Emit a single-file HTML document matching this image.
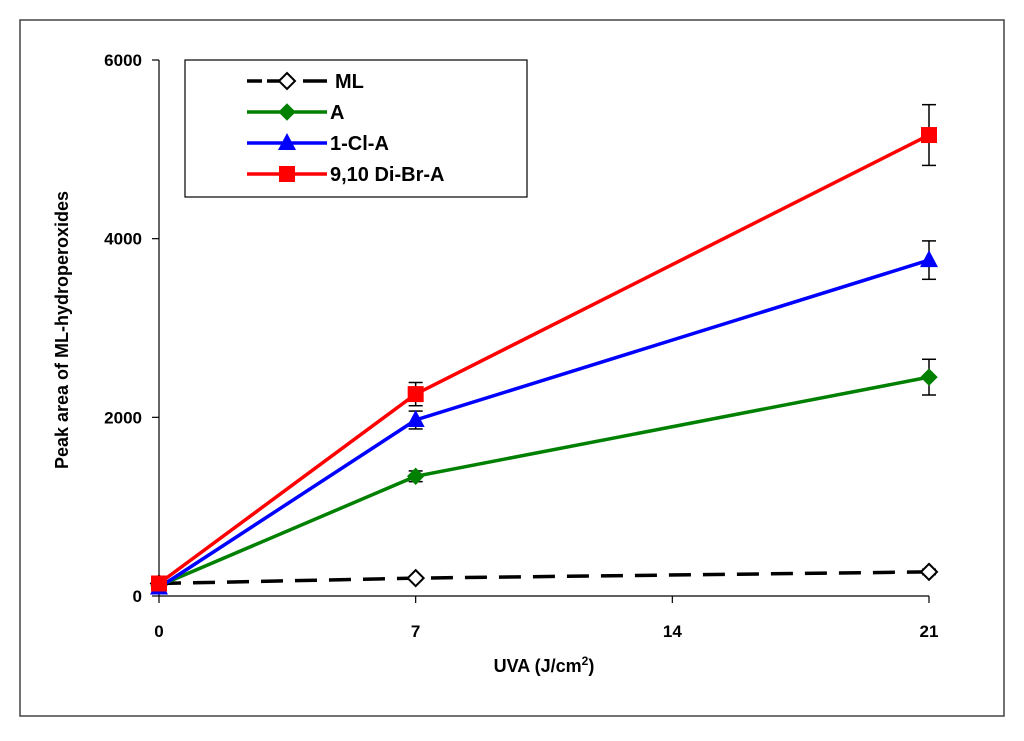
<!DOCTYPE html>
<html><head><meta charset="utf-8"><style>
body{margin:0;background:#fff;}
svg text{font-family:"Liberation Sans",Arial,sans-serif;font-weight:bold;}
</style></head><body>
<svg width="1024" height="736" xmlns="http://www.w3.org/2000/svg">
<rect x="20" y="20" width="984" height="696" fill="#fff" stroke="#444" stroke-width="1.5"/>
<g id="axes"></g>
<g id="marks"></g>
<text x="0" y="0" transform="translate(68,330) rotate(-90)" text-anchor="middle" font-size="18">Peak area of ML-hydroperoxides</text>
<text x="544" y="672" text-anchor="middle" font-size="18">UVA (J/cm<tspan font-size="12" dy="-7">2</tspan><tspan dy="7">)</tspan></text>
<g>
<rect x="185" y="60" width="342" height="137" fill="#fff" stroke="#000" stroke-width="1.2"/>
<g id="legend-items"></g>
</g>
</svg>
<script>
const xValues=[0,7,21];
const xTicks=[0,7,14,21];
const yTicks=[0,2000,4000,6000];
const seriesNames=["ML","A","1-Cl-A","9,10 Di-Br-A"];
const mlValues=[140,200,270];
const aValues=[115,1340,2450];
const clValues=[95,1970,3760];
const brValues=[140,2260,5160];
const aErr=[0,60,200];
const clErr=[0,100,215];
const brErr=[0,130,340];
const mlErr=[0,0,30];
const NS="http://www.w3.org/2000/svg";
const X=v=>159+v*(929-159)/21;
const Y=v=>596-v*(596-60)/6000;
function el(tag,attrs,parent){const e=document.createElementNS(NS,tag);for(const k in attrs)e.setAttribute(k,attrs[k]);parent.appendChild(e);return e;}
const axes=document.getElementById('axes');
const ya=el('line',{x1:159,y1:60,x2:159,y2:596,stroke:'#000','stroke-width':1.2},axes);


const xa=el('line',{x1:159,y1:596,x2:929,y2:596,stroke:'#000','stroke-width':1.2},axes);


yTicks.forEach(t=>{el('line',{x1:152,y1:Y(t),x2:159,y2:Y(t),stroke:'#000','stroke-width':1.2},axes);
const tx=el('text',{x:142,y:Y(t)+6,'text-anchor':'end','font-size':17},axes);tx.textContent=t;

});
xTicks.forEach(t=>{el('line',{x1:X(t),y1:596,x2:X(t),y2:603,stroke:'#000','stroke-width':1.2},axes);
const tx=el('text',{x:X(t),y:637,'text-anchor':'middle','font-size':17},axes);tx.textContent=t;

});
const marks=document.getElementById('marks');
function marker(type,cx,cy,color,g){
 if(type==='diamond')return el('polygon',{points:`${cx},${cy-8} ${cx+8},${cy} ${cx},${cy+8} ${cx-8},${cy}`,fill:color==='#000'?'#fff':color,stroke:color,'stroke-width':color==='#000'?2:1},g);
 if(type==='tri')return el('polygon',{points:`${cx},${cy-10} ${cx+9},${cy+7} ${cx-9},${cy+7}`,fill:color},g);
 return el('rect',{x:cx-8,y:cy-8,width:16,height:16,fill:color},g);
}
const series=[
 {name:'ml',vals:mlValues,err:mlErr,color:'#000',m:'diamond',dash:'22,12'},
 {name:'a',vals:aValues,err:aErr,color:'#008000',m:'diamond',dash:''},
 {name:'cl',vals:clValues,err:clErr,color:'#0000ff',m:'tri',dash:''},
 {name:'br',vals:brValues,err:brErr,color:'#ff0000',m:'square',dash:''}];
series.forEach(s=>{
 const g=el('g',{},marks);
 
 
 s.vals.forEach((v,i)=>{if(s.err[i]>0){const x=X(xValues[i]);
  el('line',{x1:x,y1:Y(v+s.err[i]),x2:x,y2:Y(v-s.err[i]),stroke:'#000','stroke-width':1.5},g);
  el('line',{x1:x-7,y1:Y(v+s.err[i]),x2:x+7,y2:Y(v+s.err[i]),stroke:'#000','stroke-width':1.5},g);
  el('line',{x1:x-7,y1:Y(v-s.err[i]),x2:x+7,y2:Y(v-s.err[i]),stroke:'#000','stroke-width':1.5},g);}});
 const pl=el('polyline',{points:s.vals.map((v,i)=>X(xValues[i])+','+Y(v)).join(' '),fill:'none',stroke:s.color,'stroke-width':3.5},g);
 if(s.dash)pl.setAttribute('stroke-dasharray',s.dash);
 
 
 s.vals.forEach((v,i)=>{const m=marker(s.m,X(xValues[i]),Y(v),s.color,g);
  
  });
});
const lg=document.getElementById('legend-items');
series.forEach((s,i)=>{const y=81+i*31;
 const g=el('g',{},lg);
 
 
 el('line',{x1:247,y1:y,x2:327,y2:y,stroke:s.color,'stroke-width':3.5},g);
 if(s.dash){el('line',{x1:283,y1:y,x2:303,y2:y,stroke:'#fff','stroke-width':5},g);el('line',{x1:247,y1:y,x2:267,y2:y,stroke:'#fff','stroke-width':5},g);el('line',{x1:247,y1:y,x2:262,y2:y,stroke:'#000','stroke-width':3.5},g);}
 marker(s.m,287,y,s.color,g);
 const t=el('text',{x:i===0?335:330,y:y+7,'font-size':20},g);t.textContent=seriesNames[i];
});
</script>
</body></html>
